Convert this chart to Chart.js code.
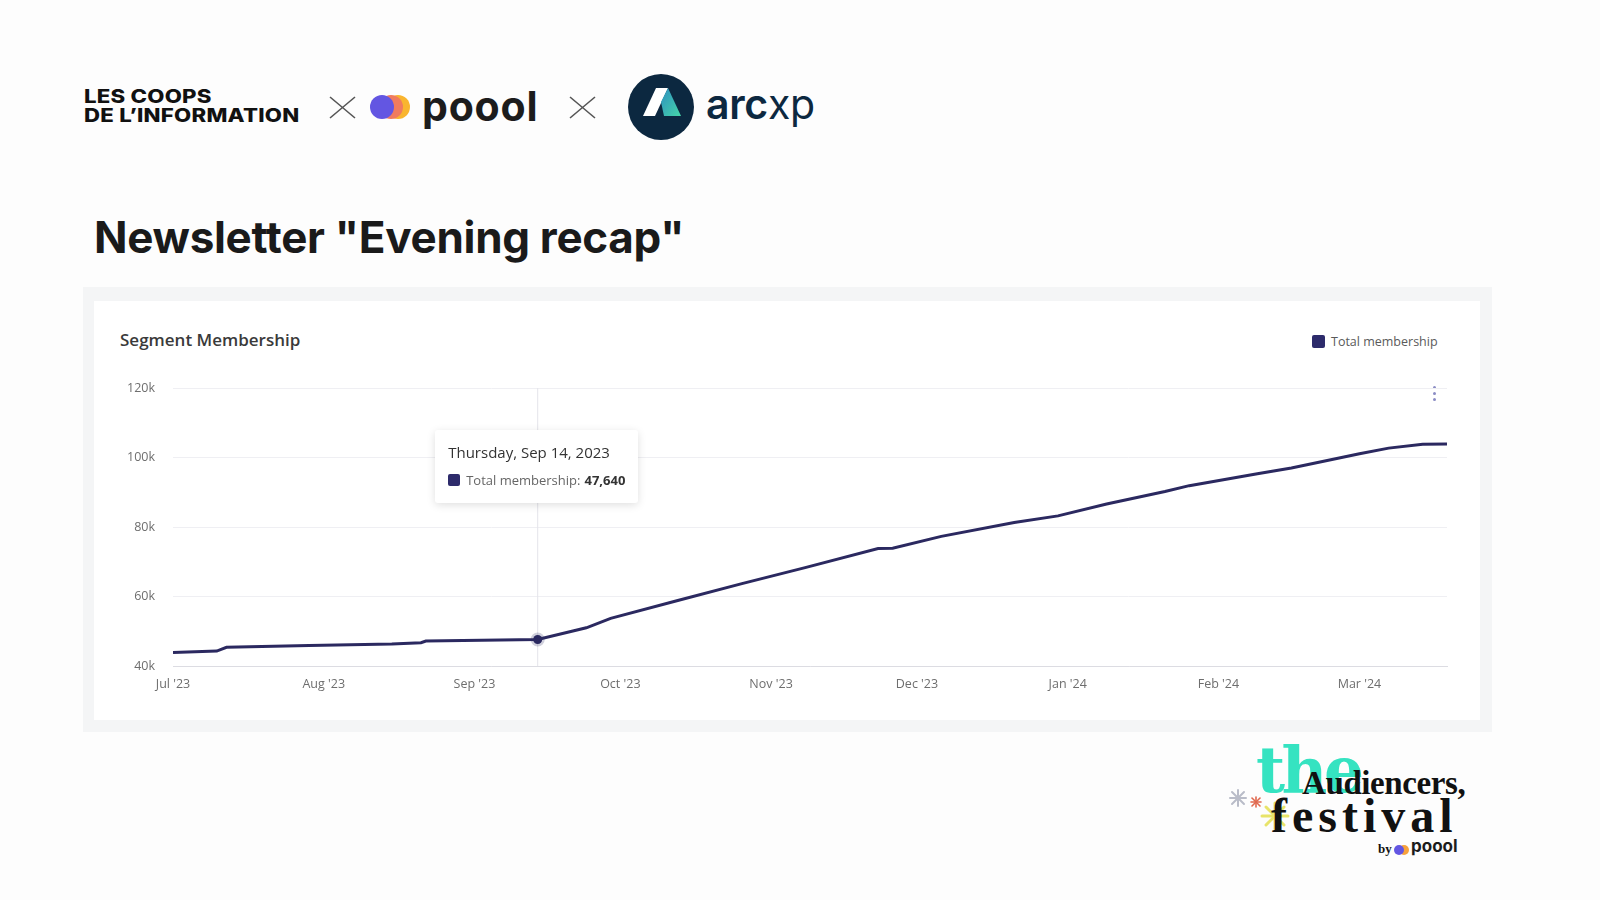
<!DOCTYPE html>
<html>
<head>
<meta charset="utf-8">
<script src="https://cdn.jsdelivr.net/npm/chart.js@4.4.1/dist/chart.umd.min.js"></script>
<style>
  body { margin: 0; background: #fdfdfd; font-family: "Open Sans", "Noto Sans", sans-serif; }
  .slide { position: relative; width: 1600px; height: 900px; overflow: hidden; background: #fdfdfd; }
  .abs { position: absolute; }
  .coops { left: 84px; top: 87px; font-family: Inter, sans-serif; font-weight: 800; font-size: 18.5px; line-height: 19px; color: #111; letter-spacing: 0.2px; transform: scaleX(1.2); transform-origin: left top; }
  .poool { left: 422px; top: 81px; font-family: Inter, sans-serif; font-weight: 700; font-size: 41px; color: #1c1c1c; letter-spacing: 0.8px; }
  .arcxp { left: 706px; top: 79px; font-family: Inter, sans-serif; font-size: 41px; color: #0c2840; letter-spacing: -0.3px; }
  .arcxp b { font-weight: 600; }
  .arcxp span { font-weight: 400; }
  .title { left: 94px; top: 210px; font-family: Inter, sans-serif; font-weight: 700; font-size: 44px; color: #1a1a1a; letter-spacing: -0.3px; }
  .outer { left: 83px; top: 287px; width: 1409px; height: 445px; background: #f4f5f6; }
  .card { left: 94px; top: 301px; width: 1386px; height: 419px; background: #fff; }
  .card-title { left: 120px; top: 328px; font-size: 17px; font-weight: 600; color: #3a3a3a; }
  .legend { left: 1312px; top: 333px; font-size: 12.5px; color: #5a5a5a; display: flex; align-items: center; }
  .legend i { display: inline-block; width: 13px; height: 13px; border-radius: 2px; background: #2d2b6b; margin-right: 6px; }
  .kebab { left: 1433px; top: 386px; width: 4px; }
  .kebab div { width: 3px; height: 3px; border-radius: 50%; background: #8b8cc4; margin-bottom: 3px; }
  #chartBox { left: 94px; top: 301px; width: 1386px; height: 419px; }
  #tip { position: absolute; background: #fff; border-radius: 3px; box-shadow: 0 2px 8px rgba(0,0,0,0.13); padding: 12px 13px 14px 13px; white-space: nowrap; pointer-events: none; }
  #tip .t { font-size: 15px; color: #333; margin-bottom: 9px; }
  #tip .b { font-size: 13px; color: #666; display: flex; align-items: center; }
  #tip .b i { display: inline-block; width: 12px; height: 12px; border-radius: 2px; background: #2d2b6b; margin-right: 6px; }
  #tip .b strong { color: #333; margin-left: 4px; }
  .the { left: 1256px; top: 730px; font-family: "DejaVu Serif", serif; font-weight: 700; font-size: 63px; color: #35e3c1; letter-spacing: -3.5px; line-height: 80px; }
  .aud { left: 1302px; top: 763px; font-family: "Liberation Serif", serif; font-weight: 700; font-size: 33px; color: #111; letter-spacing: -0.4px; line-height: 40px; }
  .fest { left: 1271px; top: 788px; font-family: "Liberation Serif", serif; font-weight: 700; font-size: 48px; color: #111; letter-spacing: 5px; line-height: 56px; }
  .by { left: 1378px; top: 841px; font-family: "Liberation Serif", serif; font-weight: 700; font-size: 13px; color: #111; }
  .bypoool { left: 1411px; top: 836px; font-family: Inter, sans-serif; font-weight: 700; font-size: 17px; color: #1c1c1c; }
</style>
</head>
<body>
<div class="slide">
  <div class="abs coops">LES COOPS<br>DE L’INFORMATION</div>

  <svg class="abs" style="left:0;top:0" width="1600" height="900">
    <g stroke="#555" stroke-width="1.6">
      <line x1="330" y1="97" x2="355" y2="118"/><line x1="355" y1="97" x2="330" y2="118"/>
      <line x1="570" y1="97" x2="595" y2="118"/><line x1="595" y1="97" x2="570" y2="118"/>
    </g>
    <circle cx="398" cy="107" r="12" fill="#f9b52f"/>
    <circle cx="391" cy="107" r="12" fill="#f07b5e"/>
    <circle cx="382" cy="107" r="12" fill="#6356e2"/>
    <circle cx="661" cy="107" r="33" fill="#0c2840"/>
    <defs><linearGradient id="teal" x1="0" y1="0" x2="1" y2="1">
      <stop offset="0" stop-color="#2e8fc0"/><stop offset="1" stop-color="#45d6a8"/></linearGradient></defs>
    <polygon points="643,116 656,88 668,88 655,116" fill="#fff"/>
    <polygon points="668,88 681,116 664,116 661,102" fill="url(#teal)"/>
    <!-- festival sparkles -->
    <g stroke="#b9bcc8" stroke-width="2" stroke-linecap="round">
      <line x1="1238" y1="790" x2="1238" y2="806"/><line x1="1230" y1="798" x2="1246" y2="798"/>
      <line x1="1232" y1="792" x2="1244" y2="804"/><line x1="1244" y1="792" x2="1232" y2="804"/>
    </g>
    <g stroke="#e0684e" stroke-width="1.6" stroke-linecap="round">
      <line x1="1256" y1="797" x2="1256" y2="807"/><line x1="1251" y1="802" x2="1261" y2="802"/>
      <line x1="1252" y1="798" x2="1260" y2="806"/><line x1="1260" y1="798" x2="1252" y2="806"/>
    </g>
    <g stroke="#e8e46a" stroke-width="3" stroke-linecap="round">
      <line x1="1275" y1="803" x2="1275" y2="829"/><line x1="1262" y1="816" x2="1288" y2="816"/>
      <line x1="1266" y1="807" x2="1284" y2="825"/><line x1="1284" y1="807" x2="1266" y2="825"/>
    </g>
    <circle cx="1404" cy="850" r="5" fill="#f7a23c"/>
    <circle cx="1399" cy="850" r="5" fill="#6356e2"/>
  </svg>

  <div class="abs poool">poool</div>
  <div class="abs arcxp"><b>arc</b><span>xp</span></div>

  <div class="abs title">Newsletter "Evening recap"</div>

  <div class="abs outer"></div>
  <div class="abs card"></div>
  <div class="abs card-title">Segment Membership</div>
  <div class="abs legend"><i></i>Total membership</div>
  <div class="abs kebab"><div></div><div></div><div></div></div>

  <div class="abs" id="chartBox"><canvas id="membershipChart"></canvas></div>

  <div class="abs the">the</div>
  <div class="abs aud">Audiencers,</div>
  <div class="abs fest">festival</div>
  <div class="abs by">by</div>
  <div class="abs bypoool">poool</div>
</div>

<script>
// values
const dates = [
  '2023-07-01', '2023-07-10', '2023-07-12', '2023-07-29', '2023-08-15', '2023-08-21',
  '2023-08-22', '2023-09-14', '2023-09-24', '2023-09-29', '2023-10-13', '2023-10-26',
  '2023-11-08', '2023-11-23', '2023-11-26', '2023-12-06', '2023-12-21', '2023-12-30',
  '2024-01-09', '2024-01-21', '2024-01-26', '2024-02-09', '2024-02-16', '2024-03-01',
  '2024-03-07', '2024-03-14', '2024-03-19'
];
const membership = [
  43900, 44300, 45400, 45900, 46300, 46700,
  47200, 47640, 51000, 53700, 58900, 63700,
  68300, 73800, 73900, 77300, 81300, 83200,
  86600, 90200, 91900, 95300, 97000, 101100,
  102700, 103800, 103900
];
const monthStarts = ['2023-07-01', '2023-08-01', '2023-09-01', '2023-10-01', '2023-11-01',
  '2023-12-01', '2024-01-01', '2024-02-01', '2024-03-01'];
const monthLabels = ["Jul '23", "Aug '23", "Sep '23", "Oct '23", "Nov '23",
  "Dec '23", "Jan '24", "Feb '24", "Mar '24"];
const yTicks = [40000, 60000, 80000, 100000, 120000];
const axisStart = '2023-07-01';
const axisEnd = '2024-03-19';
const hoverDate = '2023-09-14';

const LINE = '#2b2960';

function dayIndex(s) {
  const [y, m, d] = s.split('-').map(Number);
  const [y0, m0, d0] = axisStart.split('-').map(Number);
  return Math.round((Date.UTC(y, m - 1, d) - Date.UTC(y0, m0 - 1, d0)) / 86400000);
}

const points = dates.map((d, i) => ({ x: dayIndex(d), y: membership[i] }));
const tickDays = monthStarts.map(dayIndex);

// tooltip as html so the value can be bold
function externalTooltip(context) {
  const { chart, tooltip } = context;
  let el = document.getElementById('tip');
  if (!el) {
    el = document.createElement('div');
    el.id = 'tip';
    chart.canvas.parentNode.appendChild(el);
  }
  if (tooltip.opacity === 0) { el.style.display = 'none'; return; }
  const p = tooltip.dataPoints[0];
  const idx = p.dataIndex;
  const [y, m, d] = dates[idx].split('-').map(Number);
  const title = new Date(Date.UTC(y, m - 1, d)).toLocaleDateString('en-US',
    { weekday: 'long', month: 'short', day: 'numeric', year: 'numeric', timeZone: 'UTC' });
  el.innerHTML = `<div class="t">${title}</div>
    <div class="b"><i></i>Total membership:<strong>${membership[idx].toLocaleString('en-US')}</strong></div>`;
  el.style.display = 'block';
  el.style.left = (tooltip.caretX - el.offsetWidth / 2 - 1) + 'px';
  el.style.top = (chart.chartArea.top + 42) + 'px';
}

const hoverLine = {
  id: 'hoverLine',
  beforeDatasetsDraw(chart) {
    const act = chart.getActiveElements();
    if (!act.length) return;
    const x = act[0].element.x;
    const { top, bottom } = chart.chartArea;
    const ctx = chart.ctx;
    ctx.save();
    ctx.strokeStyle = '#e4e4ea';
    ctx.lineWidth = 1;
    ctx.beginPath();
    ctx.moveTo(x, top);
    ctx.lineTo(x, bottom);
    ctx.stroke();
    ctx.restore();
  }
};

const chart = new Chart(document.getElementById('membershipChart'), {
  type: 'line',
  data: {
    datasets: [{
      label: 'Total membership',
      data: points,
      borderColor: LINE,
      backgroundColor: LINE,
      borderWidth: 3,
      pointRadius: 0,
      pointHoverRadius: 4.5,
      pointHoverBackgroundColor: LINE,
      pointHoverBorderColor: 'rgba(43,41,96,0.22)',
      pointHoverBorderWidth: 5,
      tension: 0
    }]
  },
  options: {
    responsive: true,
    maintainAspectRatio: false,
    animation: false,
    events: [],
    layout: { padding: { top: 87, right: 33, left: 0, bottom: 0 } },
    interaction: { mode: 'index', intersect: false },
    plugins: {
      legend: { display: false },
      tooltip: { enabled: false, external: externalTooltip }
    },
    scales: {
      x: {
        type: 'linear',
        min: dayIndex(axisStart),
        max: dayIndex(axisEnd),
        afterBuildTicks: (scale) => { scale.ticks = tickDays.map(v => ({ value: v })); },
        afterFit: (scale) => { scale.height = 54; },
        grid: { display: false, drawTicks: false },
        border: { color: '#dcdce2' },
        ticks: {
          padding: 11,
          color: '#6e6e6e',
          font: { family: '"Open Sans", sans-serif', size: 12.5 },
          callback: (v) => monthLabels[tickDays.indexOf(v)] || ''
        }
      },
      y: {
        min: yTicks[0],
        max: yTicks[yTicks.length - 1],
        afterBuildTicks: (scale) => { scale.ticks = yTicks.map(v => ({ value: v })); },
        afterFit: (scale) => { scale.width = 79; },
        grid: { color: '#efeff3', drawTicks: false },
        border: { display: false },
        ticks: {
          padding: 18,
          color: '#6e6e6e',
          font: { family: '"Open Sans", sans-serif', size: 12.5 },
          callback: (v) => (v / 1000) + 'k'
        }
      }
    }
  },
  plugins: [hoverLine]
});

const hi = dates.indexOf(hoverDate);
const active = [{ datasetIndex: 0, index: hi }];
chart.setActiveElements(active);
chart.tooltip.setActiveElements(active, { x: 0, y: 0 });
chart.update();
</script>
</body>
</html>
